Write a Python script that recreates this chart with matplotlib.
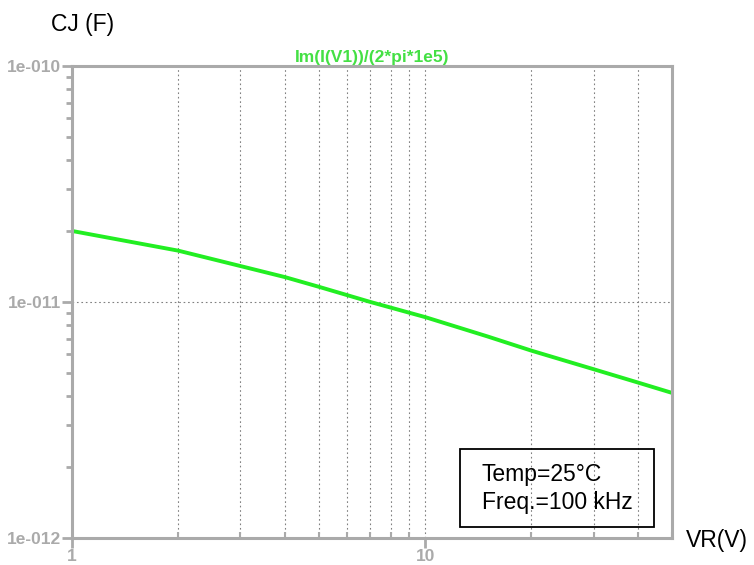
import matplotlib
matplotlib.use("Agg")
import matplotlib.pyplot as plt
from matplotlib.patches import Rectangle
from matplotlib.ticker import LogLocator, NullFormatter, FixedFormatter, FixedLocator

plt.rcParams['font.family'] = ['Liberation Sans', 'DejaVu Sans']

# junction capacitance vs reverse voltage
vr = [1, 2, 3, 4, 5, 7, 10, 15, 20, 30, 40, 50]
cj = [2.0e-11, 1.65e-11, 1.42e-11, 1.276e-11, 1.16e-11, 1.0e-11,
      8.63e-12, 7.15e-12, 6.22e-12, 5.19e-12, 4.56e-12, 4.12e-12]
x_ticks = [1, 10]
x_labels = ['1', '10']
y_ticks = [1e-12, 1e-11, 1e-10]
y_labels = ['1e-012', '1e-011', '1e-010']

W, H = 754, 565
fig = plt.figure(figsize=(W / 100, H / 100), dpi=100)
ax = fig.add_axes([72 / W, 1 - 538 / H, 600 / W, 472 / H])

gray = '#aaaaaa'
ax.plot(vr, cj, color='#22ee22', lw=2.8, solid_capstyle='butt')
ax.set_xscale('log')
ax.set_yscale('log')
ax.set_xlim(1, 50)
ax.set_ylim(1e-12, 1e-10)

ax.xaxis.set_major_locator(FixedLocator(x_ticks))
ax.xaxis.set_major_formatter(FixedFormatter(x_labels))
ax.xaxis.set_minor_locator(LogLocator(base=10, subs=range(2, 10)))
ax.xaxis.set_minor_formatter(NullFormatter())
ax.yaxis.set_major_locator(FixedLocator(y_ticks))
ax.yaxis.set_major_formatter(FixedFormatter(y_labels))
ax.yaxis.set_minor_locator(LogLocator(base=10, subs=range(2, 10)))
ax.yaxis.set_minor_formatter(NullFormatter())

for s in ax.spines.values():
    s.set_color(gray)
    s.set_linewidth(2.2)

ax.tick_params(axis='both', which='major', colors=gray, length=7, width=2,
               labelsize=12.5, pad=1)
ax.tick_params(axis='y', which='minor', colors=gray, length=4, width=2, direction='out')
ax.tick_params(axis='x', which='minor', colors=gray, length=4, width=1.5, direction='in')
for lbl in ax.get_xticklabels() + ax.get_yticklabels():
    lbl.set_fontweight('bold')
    lbl.set_color(gray)

grid_kw = dict(color='#808080', ls=(0, (1.5, 2.5)), lw=0.8)
ax.grid(True, which='major', axis='both', **grid_kw)
ax.grid(True, which='minor', axis='x', **grid_kw)
ax.grid(False, which='minor', axis='y')

ax.set_title('Im(I(V1))/(2*pi*1e5)', color='#44e044', fontsize=12.5,
             fontweight='bold', pad=3)

fig.text(83 / W, 1 - 24 / H, 'CJ (F)', fontsize=16.5, ha='center', va='center')
fig.text(717 / W, 1 - 540 / H, 'VR(V)', fontsize=16.5, ha='center', va='center')

# annotation box
fig.patches.append(Rectangle((460 / W, 1 - 527 / H), 194 / W, 78 / H,
                             transform=fig.transFigure, fill=False,
                             edgecolor='black', lw=1.3))
fig.text(482 / W, 1 - 475 / H, 'Temp=25°C', fontsize=16.5, ha='left', va='center')
fig.text(482 / W, 1 - 502 / H, 'Freq.=100 kHz', fontsize=16.5, ha='left', va='center')

fig.savefig('out.png', dpi=100)
